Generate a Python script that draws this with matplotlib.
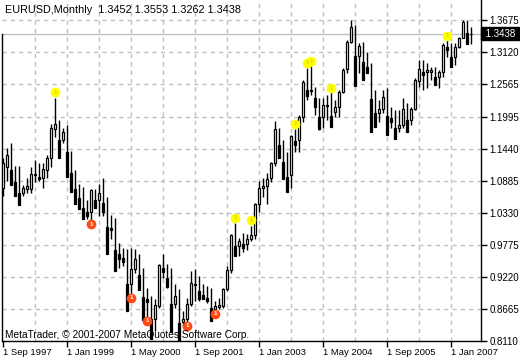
# EURUSD monthly candles, MetaTrader style
import pandas as pd
import matplotlib
matplotlib.use('Agg')
import matplotlib.pyplot as plt
import matplotlib.transforms as mtransforms

# Months shown, Sep 1997 .. Jun 2007
months = pd.period_range('1997-09', '2007-06', freq='M')

opens = [1.077, 1.112, 1.134, 1.110, 1.087, 1.067, 1.075, 1.075, 1.103, 1.101,
         1.094, 1.108, 1.129, 1.178, 1.190, 1.159, 1.180, 1.136, 1.101, 1.077,
         1.060, 1.042, 1.035, 1.070, 1.055, 1.068, 1.055, 1.008, 1.006, 0.971,
         0.962, 0.957, 0.910, 0.936, 0.953, 0.927, 0.889, 0.884, 0.849, 0.872,
         0.945, 0.938, 0.924, 0.875, 0.889, 0.844, 0.849, 0.875, 0.912, 0.912,
         0.898, 0.891, 0.891, 0.866, 0.870, 0.872, 0.901, 0.934, 0.994, 0.976,
         0.985, 0.979, 0.988, 0.994, 1.049, 1.077, 1.079, 1.093, 1.119, 1.171,
         1.153, 1.122, 1.098, 1.166, 1.159, 1.199, 1.258, 1.249, 1.247, 1.220,
         1.199, 1.218, 1.220, 1.208, 1.216, 1.242, 1.282, 1.329, 1.357, 1.305,
         1.324, 1.296, 1.286, 1.232, 1.207, 1.213, 1.234, 1.203, 1.199, 1.180,
         1.185, 1.215, 1.194, 1.213, 1.261, 1.282, 1.277, 1.277, 1.281, 1.268,
         1.277, 1.324, 1.320, 1.303, 1.320, 1.336, 1.364, 1.3452]
highs = [1.129, 1.145, 1.154, 1.115, 1.115, 1.081, 1.093, 1.112, 1.124, 1.119,
         1.119, 1.133, 1.188, 1.232, 1.194, 1.181, 1.185, 1.141, 1.107, 1.084,
         1.078, 1.056, 1.075, 1.075, 1.084, 1.093, 1.060, 1.030, 1.025, 0.980,
         0.973, 0.971, 0.973, 0.971, 0.962, 0.938, 0.903, 0.889, 0.884, 0.945,
         0.962, 0.945, 0.938, 0.910, 0.901, 0.863, 0.886, 0.933, 0.936, 0.924,
         0.910, 0.907, 0.903, 0.880, 0.886, 0.903, 0.941, 0.997, 1.016, 0.990,
         0.998, 0.996, 1.011, 1.051, 1.089, 1.094, 1.103, 1.121, 1.193, 1.180,
         1.159, 1.138, 1.168, 1.178, 1.203, 1.263, 1.284, 1.287, 1.251, 1.232,
         1.232, 1.237, 1.242, 1.228, 1.246, 1.284, 1.333, 1.367, 1.359, 1.327,
         1.329, 1.312, 1.293, 1.246, 1.228, 1.246, 1.249, 1.216, 1.211, 1.211,
         1.232, 1.223, 1.216, 1.267, 1.298, 1.298, 1.293, 1.286, 1.286, 1.281,
         1.327, 1.333, 1.327, 1.327, 1.338, 1.367, 1.367, 1.3553]
lows = [1.063, 1.089, 1.103, 1.084, 1.063, 1.063, 1.068, 1.068, 1.086, 1.089,
        1.077, 1.094, 1.112, 1.164, 1.145, 1.154, 1.136, 1.093, 1.072, 1.051,
        1.034, 1.023, 1.020, 1.042, 1.028, 1.028, 1.006, 0.988, 0.964, 0.938,
        0.941, 0.905, 0.893, 0.928, 0.915, 0.884, 0.851, 0.828, 0.828, 0.868,
        0.921, 0.903, 0.868, 0.868, 0.841, 0.837, 0.841, 0.872, 0.881, 0.881,
        0.886, 0.877, 0.863, 0.862, 0.867, 0.868, 0.898, 0.929, 0.962, 0.959,
        0.965, 0.969, 0.984, 0.987, 1.034, 1.060, 1.049, 1.086, 1.115, 1.138,
        1.119, 1.077, 1.077, 1.138, 1.138, 1.190, 1.228, 1.238, 1.202, 1.176,
        1.180, 1.194, 1.194, 1.199, 1.199, 1.241, 1.275, 1.327, 1.303, 1.275,
        1.272, 1.275, 1.228, 1.206, 1.190, 1.206, 1.197, 1.181, 1.171, 1.173,
        1.180, 1.185, 1.185, 1.211, 1.251, 1.246, 1.249, 1.263, 1.263, 1.249,
        1.268, 1.303, 1.293, 1.289, 1.319, 1.336, 1.333, 1.3262]
closes = [1.119, 1.134, 1.108, 1.086, 1.067, 1.077, 1.079, 1.101, 1.101, 1.096,
          1.110, 1.129, 1.180, 1.188, 1.159, 1.173, 1.138, 1.103, 1.075, 1.058,
          1.041, 1.035, 1.072, 1.056, 1.068, 1.051, 1.008, 1.006, 0.969, 0.962,
          0.955, 0.910, 0.936, 0.953, 0.926, 0.887, 0.884, 0.849, 0.874, 0.943,
          0.938, 0.921, 0.875, 0.889, 0.842, 0.849, 0.875, 0.912, 0.910, 0.898,
          0.891, 0.886, 0.868, 0.872, 0.874, 0.901, 0.934, 0.994, 0.976, 0.985,
          0.979, 0.988, 0.994, 1.049, 1.077, 1.080, 1.091, 1.119, 1.178, 1.150,
          1.122, 1.096, 1.166, 1.158, 1.199, 1.260, 1.247, 1.247, 1.232, 1.199,
          1.220, 1.220, 1.201, 1.216, 1.242, 1.281, 1.329, 1.355, 1.305, 1.322,
          1.294, 1.286, 1.230, 1.207, 1.214, 1.234, 1.201, 1.197, 1.180, 1.185,
          1.213, 1.194, 1.213, 1.263, 1.282, 1.277, 1.280, 1.281, 1.268, 1.277,
          1.324, 1.320, 1.303, 1.320, 1.336, 1.364, 1.345, 1.3438]

# Indicator arrows (bar index, price)
up_marks = [(13, 1.242), (58, 1.025), (62, 1.020), (73, 1.188),
            (76, 1.293), (77, 1.296), (82, 1.249), (111, 1.340)]
down_marks = [(22, 1.013), (32, 0.886), (36, 0.846), (46, 0.837), (53, 0.858)]

price_labels = ['1.3675', '1.3120', '1.2565', '1.1995', '1.1440', '1.0885',
                '1.0330', '0.9775', '0.9220', '0.8665', '0.8110']
bid = 1.3438
title = 'EURUSD,Monthly  1.3452 1.3553 1.3262 1.3438'
copyright_txt = 'MetaTrader, \u00a9 2001-2007 MetaQuotes Software Corp.'

plt.rcParams['font.family'] = ['Liberation Sans', 'DejaVu Sans']

fig = plt.figure(figsize=(5.2, 3.6), dpi=100, facecolor='white')
ax = fig.add_axes([2/520, 19/360, 479/520, 341/360])
ax.set_facecolor('white')

n = len(closes)
ax.set_xlim(-0.325, 119.425)
ax.set_ylim(0.8109, 1.4022)

# grid
grid_col = '#c0c0c0'
for k in range(8, n + 2, 8):
    ax.axvline(k, color=grid_col, lw=1, ls=(0, (3, 3)), zorder=0)
for lab in price_labels:
    ax.axhline(float(lab), color=grid_col, lw=1, ls=(0, (3, 3)), zorder=0)
ax.axhline(bid, color=grid_col, lw=1, zorder=0.5)

# candles
idx = list(range(n))
ax.vlines(idx, lows, highs, color='black', lw=1, zorder=2)
for i in idx:
    o, c = opens[i], closes[i]
    fill = 'white' if c >= o else 'black'
    ax.bar(i, c - o if c != o else 0.0004, bottom=min(o, c), width=0.55,
           color=fill, edgecolor='black', linewidth=0.9, zorder=3)

# arrows
for k, p in up_marks:
    ax.plot(k, p, 'o', ms=6, mfc='#ffff00', mec='#ffff00', zorder=4)
    ax.text(k, p, '1', fontsize=4.5, fontweight='bold', color='#d8d800',
            ha='center', va='center', zorder=5)
for k, p in down_marks:
    ax.plot(k, p, 'o', ms=6, mfc='#ff4a14', mec='#ff4a14', zorder=4)
    ax.text(k, p, '1', fontsize=4.5, fontweight='bold', color='white',
            ha='center', va='center', zorder=5)

# axes frame
ax.spines['top'].set_visible(False)
ax.spines['left'].set_bounds(0.8109, bid)
for s in ['left', 'right', 'bottom']:
    ax.spines[s].set_color('black')
    ax.spines[s].set_linewidth(1)

ax.yaxis.tick_right()
ax.set_yticks([float(v) for v in price_labels])
ax.set_yticklabels(price_labels)
ax.tick_params(axis='y', direction='out', length=4, width=1, pad=2,
               labelsize=7, colors='black')

xt = list(range(0, n, 16))
ax.set_xticks(xt)
ax.set_xticklabels(['1 %s %d' % (months[k].strftime('%b'), months[k].year)
                    for k in xt], ha='left')
ax.tick_params(axis='x', direction='out', length=4, width=1, pad=1,
               labelsize=6.8, colors='black')

# bid label box
trans = mtransforms.blended_transform_factory(ax.transAxes, ax.transData)
ax.text(1.004, bid, ' %s ' % '1.3438', transform=trans, fontsize=7,
        color='white', ha='left', va='center', clip_on=False,
        bbox=dict(boxstyle='square,pad=0.15', fc='black', ec='black'))

fig.text(5/520, 1 - 10/360, title, fontsize=7.8, color='black', va='center')
fig.text(5/520, 1 - 335/360, copyright_txt, fontsize=7.3, color='black',
         va='center')

fig.savefig('out.png', dpi=100, facecolor='white')
